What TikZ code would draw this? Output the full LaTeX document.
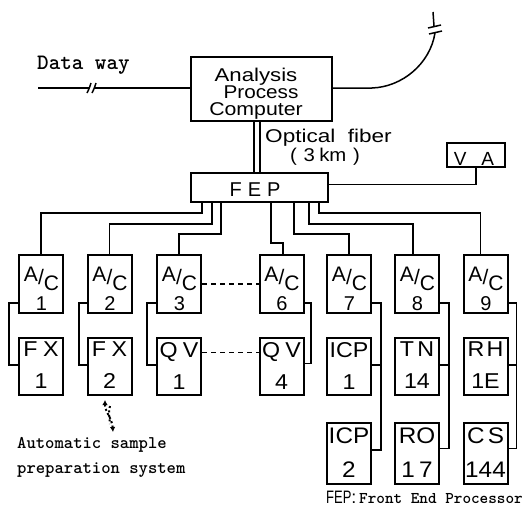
\documentclass[tikz,border=0pt]{standalone}
\usepackage{fontspec}
\setsansfont{Liberation Sans}
\usetikzlibrary{calc,arrows.meta}
\newcommand\hstr[2]{\scalebox{#1}[1]{#2}}
\newcommand\slab[1]{\sffamily\fontsize{#1}{#1}\selectfont}
\newcommand\mono[1]{\ttfamily\bfseries\fontsize{#1}{#1}\selectfont}
\tikzset{
  box/.style={draw, line width=2pt, inner sep=0pt},
  acbox/.style={box, minimum width=44pt, minimum height=58pt},
  rowone/.style={box, minimum width=44pt, minimum height=57pt},
  rowtwo/.style={box, minimum width=44pt, minimum height=61pt},
  wire/.style={line width=1.5pt},
  dashwire/.style={wire, dash pattern=on 5pt off 4pt},
  lab/.style={inner sep=0pt, anchor=base, font=\slab{20}},
  boxlab/.style={inner sep=0pt, anchor=north, align=center},
  tt/.style={inner sep=0pt, anchor=base west},
}
\begin{document}
\begin{tikzpicture}[x=1pt,y=-1pt]
\useasboundingbox (0,0) rectangle (523,506);

% main boxes
\node[box, minimum width=141pt, minimum height=64pt] (apc) at (261.5,89) {};
\node[boxlab, font=\sffamily\fontsize{18.5}{17}\selectfont] (apctxt) at (256,67.5)
  {\hstr{1.2}{Analysis}\\\hspace{10pt}\hstr{1.12}{Process}\\\hstr{1.15}{Computer}};

\node[box, minimum width=137pt, minimum height=29pt] (fep) at (259.5,187.5) {};
\node[lab, font=\slab{20}] (feptxt) at (255,196.5) {F\hspace{6pt}E\hspace{6pt}P};

\node[box, minimum width=58pt, minimum height=24pt] (va) at (476,155) {};
\node[lab, font=\slab{19}] (vatxt) at (474,165) {V\hspace{15pt}A};

% optical fiber
\draw[wire] ([xshift=-7.5pt]apc.south) -- ([xshift=-5.5pt]fep.north);
\draw[wire] ([xshift=-1.5pt]apc.south) -- ([xshift=0.5pt]fep.north);
\node[lab, font=\slab{18.5}, anchor=base west] (of1) at (265,142) {\hstr{1.22}{Optical\hspace{5pt} fiber}};
\node[lab, font=\slab{18.5}] (of2) at (325,161) {\hstr{1.1}{(\hspace{6pt}3\hspace{4pt}km\hspace{6pt})}};

% data way
\coordinate (dwl) at (38,88);
\coordinate (dwa) at (88.5,88);
\coordinate (dwb) at (94,88);
\draw[wire] (dwl) -- (dwa);
\draw[wire] (dwb) -- (apc.west |- dwb);
\draw[wire] (87,93) .. controls (89,89) .. (91,83);
\draw[wire] (92,93) .. controls (94,89) .. (96,83);
\node[tt, font=\mono{22}] (dwtxt) at (37,70) {Data way};

% line to the upper right
\coordinate (ur1) at (372,88);
\coordinate (ur2) at (435,33);
\coordinate (ur3) at (434,26);
\coordinate (ur4) at (433,12);
\draw[wire] (apc.east |- ur1) -- (ur1) .. controls (402,87) and (430,64) .. (ur2);
\draw[wire] (ur3) -- (ur4);
\draw[wire] (428,28) .. controls (434,26) .. (441,25);
\draw[wire] (429,34) .. controls (435,32) .. (442,31);

% FEP to VA
\draw[wire] (va.south) |- ([yshift=3pt]fep.east);

% A/C boxes
\foreach \n/\x/\d in {1/41/1, 2/109.5/2, 3/179/3, 6/281.5/6, 7/349/7, 8/417/8, 9/485.5/9}{
  \node[acbox] (ac\n) at (\x,284) {};
  \node[boxlab, font=\sffamily\fontsize{21}{25}\selectfont] (acl\n) at (\x+0.5,266.5)
    {\raisebox{4pt}{A}\raisebox{1pt}{/}\raisebox{-5pt}{C}\\\fontsize{20}{20}\selectfont\d};
}

% FEP to A/C
\draw[wire] ([xshift=12pt]fep.south west) -- ++(0,10) -| (ac1.north);
\draw[wire] ([xshift=22pt]fep.south west) -- ++(0,21) -| (ac2.north);
\draw[wire] ([xshift=31pt]fep.south west) -- ++(0,31) -| (ac3.north);
\draw[wire] ([xshift=81pt]fep.south west) -- ++(0,40) -| ([xshift=1.5pt]ac6.north);
\draw[wire] ([xshift=104pt]fep.south west) -- ++(0,31) -| (ac7.north);
\draw[wire] ([xshift=119pt]fep.south west) -- ++(0,21) -| ([xshift=-4pt]ac8.north);
\draw[wire] ([xshift=129pt]fep.south west) -- ++(0,10) -| ([xshift=-5pt]ac9.north);

\draw[dashwire] (ac3.east) -- (ac6.west);

% first row
\foreach \n/\x/\t/\d in {fx1/41/F\hspace{5pt}X/1, fx2/109.5/F\hspace{5pt}X/2, qv1/179/Q\hspace{5pt}V/1, qv4/281.5/Q\hspace{5pt}V/4, icp1/349/ICP/1, tn/417/T\hspace{3pt}N/14, rh/485.5/R\hspace{2pt}H/1E}{
  \node[rowone] (\n) at (\x,366.5) {};
  \node[boxlab, font=\sffamily\fontsize{21.5}{32}\selectfont] (\n t) at (\x,342) {\hstr{1.08}{\t}\\\hstr{1.08}{\d}};
}
% second row
\foreach \n/\x/\t/\d in {icp2/349/ICP/2, ro/417/RO/1\hspace{4pt}7, cs/485.5/C\hspace{3pt}S/144}{
  \node[rowtwo] (\n) at (\x,453.5) {};
  \node[boxlab, font=\sffamily\fontsize{22.5}{34}\selectfont] (\n t) at (\x,428) {\hstr{1.08}{\t}\\\hstr{1.08}{\d}};
}

\draw[dashwire] ([yshift=14pt]qv1.east) -- ([yshift=14pt]qv4.west);

% A/C to devices
\draw[wire] ([yshift=11pt]ac1.south west) -- ++(-9,0) |- ([yshift=1.5pt]fx1.west);
\draw[wire] ([yshift=11pt]ac2.south west) -- ++(-7.5,0) |- ([yshift=1.5pt]fx2.west);
\draw[wire] ([yshift=11pt]ac3.south west) -- ++(-9,0) |- ([yshift=1.5pt]qv1.west);
\draw[wire] ([yshift=11pt]ac6.south east) -- ++(6.5,0) |- ([yshift=3pt]qv4.east);
\draw[wire] ([yshift=11pt]ac7.south east) -- ++(9,0) coordinate (v7) |- ([yshift=3.5pt]icp2.east);
\draw[wire] ([yshift=1.5pt]icp1.east) -- ([yshift=1.5pt]icp1.east -| v7);
\draw[wire] ([yshift=11pt]ac8.south east) -- ++(9,0) coordinate (v8) |- ([yshift=5pt]ro.east);
\draw[wire] ([yshift=1.5pt]tn.east) -- ([yshift=1.5pt]tn.east -| v8);
\draw[wire] ([yshift=11pt]ac9.south east) -- ++(8,0) coordinate (v9) |- ([yshift=5pt]cs.east);
\draw[wire] ([yshift=1.5pt]rh.east) -- ([yshift=1.5pt]rh.east -| v9);

% automatic sample preparation arrow
\coordinate (asp) at (113,432);
\draw[line width=2pt, dash pattern=on 2pt off 2.5pt, {Latex[length=5pt,width=5.5pt]}-{Latex[length=5pt,width=5.5pt]}]
  ([xshift=-4.5pt,yshift=-4pt]fx2.south) .. controls (105,412) and (112,418) .. (asp);
\draw[line width=2pt, dash pattern=on 2pt off 2.5pt] (110,406) .. controls (108,414) and (110,420) .. (110,424);

\node[tt, font=\mono{17.8}] (as1) at (17,448) {Automatic sample};
\node[tt, font=\mono{17.8}] (as2) at (17,473) {preparation system};

\node[tt, font=\slab{18}] (cap1) at (326,503) {\hstr{0.72}{FEP}:};
\node[tt, font=\mono{16.4}] (cap2) at (359,503) {Front End Processor};
\end{tikzpicture}
\end{document}
